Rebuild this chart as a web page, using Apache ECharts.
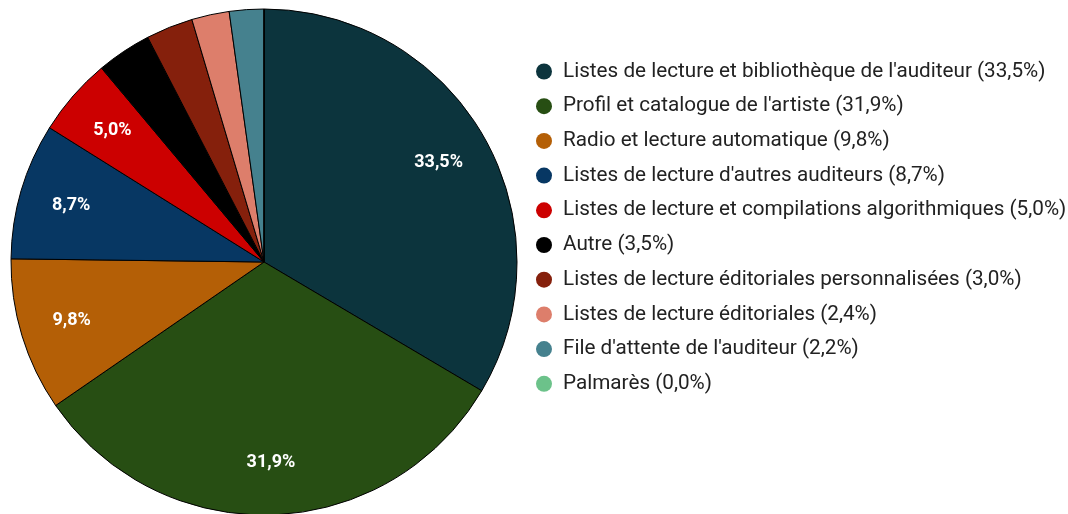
<!DOCTYPE html>
<html>
<head>
<meta charset="utf-8">
<script src="https://cdn.jsdelivr.net/npm/echarts@6/dist/echarts.min.js"></script>
<style>
  html, body { margin: 0; padding: 0; background: #fff; }
  #main { width: 1068px; height: 514px; }
</style>
</head>
<body>
<div id="main"></div>
<script>
var categories = [
  "Listes de lecture et bibliothèque de l'auditeur",
  "Profil et catalogue de l'artiste",
  "Radio et lecture automatique",
  "Listes de lecture d'autres auditeurs",
  "Listes de lecture et compilations algorithmiques",
  "Autre",
  "Listes de lecture éditoriales personnalisées",
  "Listes de lecture éditoriales",
  "File d'attente de l'auditeur",
  "Palmarès"
];
var values = [33.5, 31.9, 9.8, 8.7, 5.0, 3.5, 3.0, 2.4, 2.2, 0.0];
var colors = ['#0c343d', '#274e13', '#b45f06', '#073763', '#cc0000',
              '#000000', '#85200c', '#dd7e6b', '#45818e', '#6cc28a'];

function pct(v) { return v.toFixed(1).replace('.', ',') + '%'; }

var pieData = categories.map(function (name, i) {
  return { name: name, value: values[i], itemStyle: { color: colors[i] } };
});
var labelData = categories.map(function (name, i) {
  return {
    name: name, value: values[i],
    itemStyle: { color: 'transparent' },
    label: { show: values[i] >= 5 }
  };
});
var valueByName = {};
categories.forEach(function (n, i) { valueByName[n] = values[i]; });

var chart = echarts.init(document.getElementById('main'));
chart.setOption({
  animation: false,
  legend: {
    orient: 'vertical',
    left: 531,
    top: 55,
    icon: 'circle',
    itemWidth: 16,
    itemHeight: 16,
    itemGap: 11.7,
    itemStyle: { borderWidth: 0 },
    data: categories,
    textStyle: { fontFamily: 'Roboto', fontSize: 20.7, color: '#222', lineHeight: 23, padding: [0, 0, 0, 6] },
    formatter: function (name) { return name + ' (' + pct(valueByName[name]) + ')'; }
  },
  series: [
    {
      type: 'pie',
      center: [264, 262],
      radius: [0, 253],
      startAngle: 90,
      clockwise: true,
      silent: true,
      label: { show: false },
      labelLine: { show: false },
      itemStyle: { borderColor: '#000', borderWidth: 1 },
      data: pieData
    },
    {
      type: 'pie',
      center: [264, 262],
      radius: [0, 396],
      startAngle: 90,
      clockwise: true,
      silent: true,
      z: 5,
      legendHoverLink: false,
      label: {
        show: true,
        position: 'inside',
        fontFamily: 'Roboto',
        fontWeight: 'bold',
        fontSize: 18,
        color: '#fff',
        formatter: function (p) { return pct(p.value); }
      },
      labelLine: { show: false },
      data: labelData
    }
  ]
});
</script>
</body>
</html>
